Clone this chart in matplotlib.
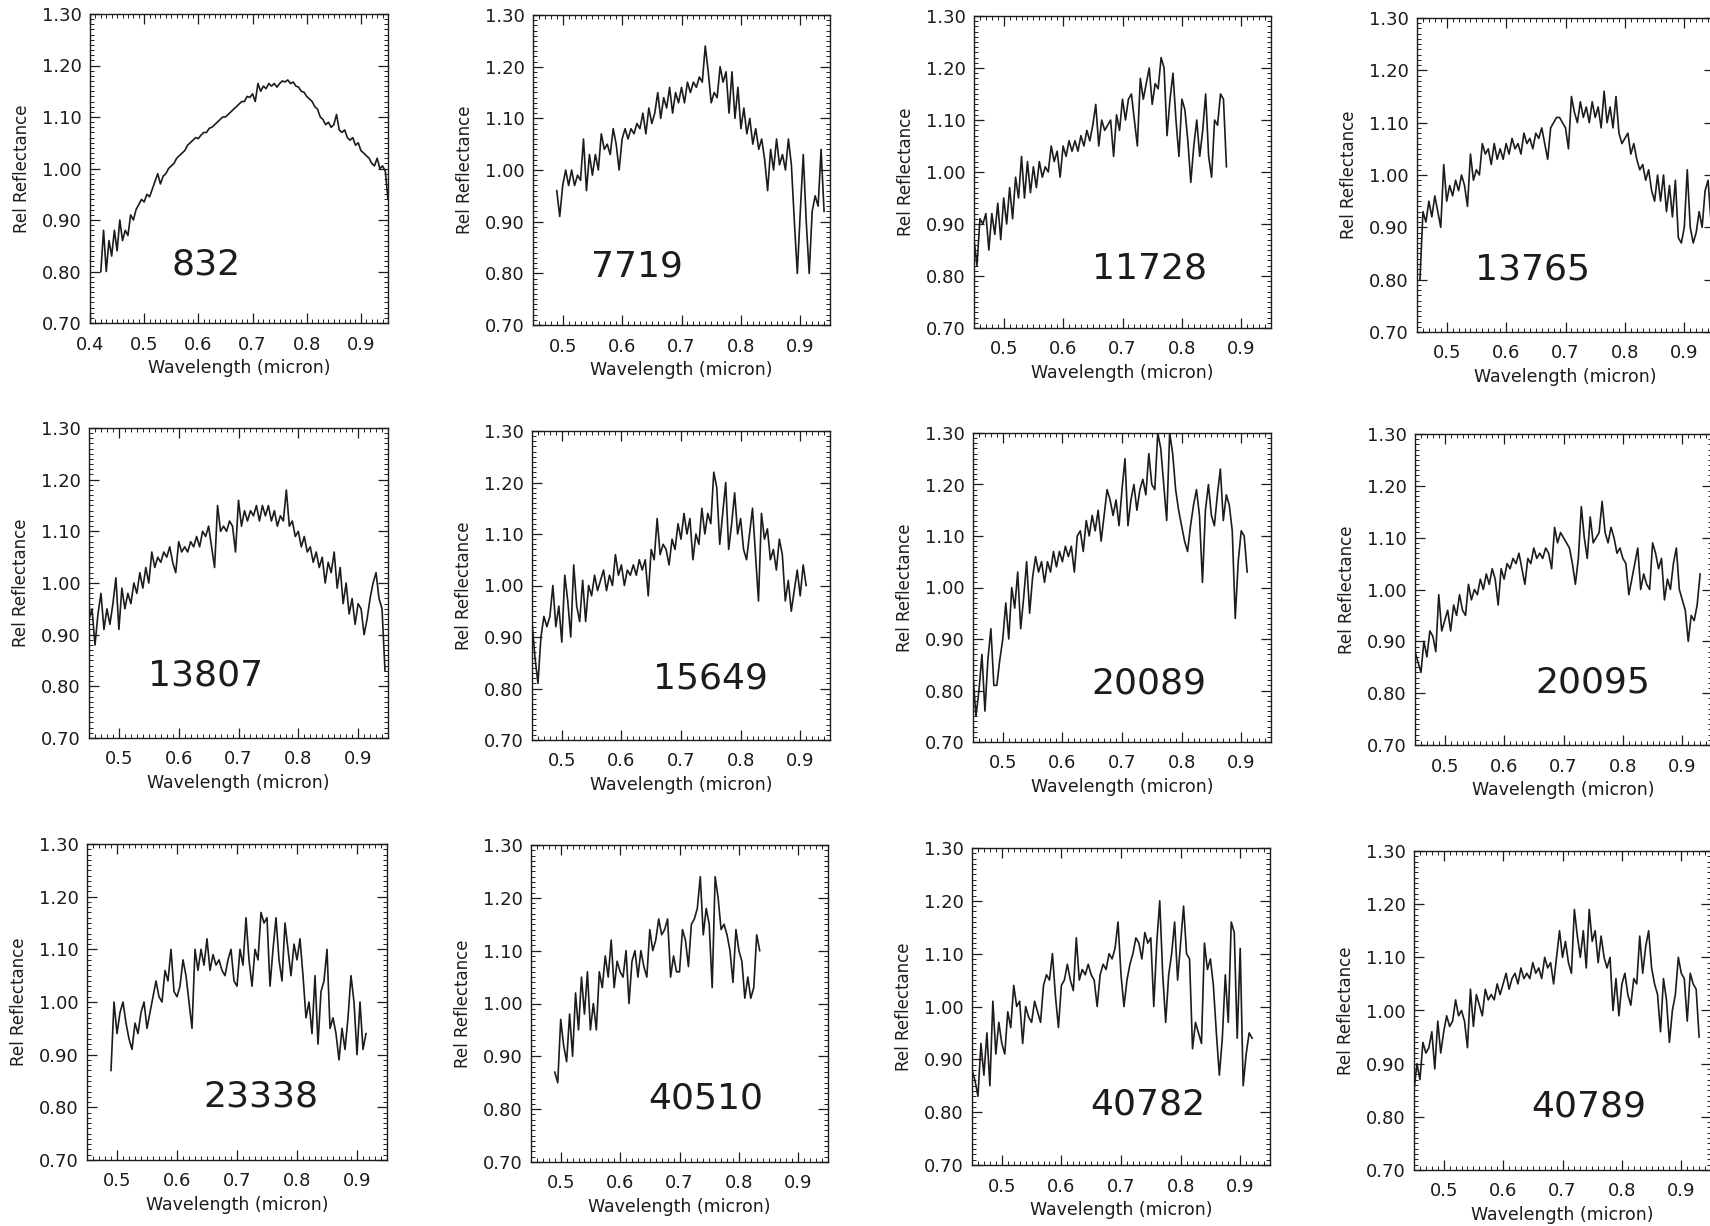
import numpy as np
import matplotlib
matplotlib.use("Agg")
import matplotlib.pyplot as plt
from matplotlib.ticker import MultipleLocator, FormatStrFormatter

# asteroid numbers shown in each panel
asteroids = ["832", "7719", "11728", "13765",
             "13807", "15649", "20089", "20095",
             "23338", "40510", "40782", "40789"]

# first wavelength (micron) of each spectrum, sampled every 0.005 micron
wl_start = [0.420, 0.490, 0.450, 0.455,
            0.450, 0.450, 0.450, 0.450,
            0.490, 0.490, 0.450, 0.450]
wl_step = 0.005

# relative reflectance
r832 = [0.80, 0.88, 0.80, 0.86, 0.83, 0.88, 0.84, 0.90, 0.86, 0.88,
        0.87, 0.91, 0.90, 0.92, 0.93, 0.94, 0.935, 0.95, 0.945, 0.96,
        0.975, 0.99, 0.97, 0.985, 0.99, 1.00, 1.005, 1.01, 1.02, 1.025,
        1.03, 1.035, 1.045, 1.05, 1.055, 1.06, 1.058, 1.065, 1.07, 1.07,
        1.078, 1.08, 1.085, 1.09, 1.095, 1.10, 1.10, 1.105, 1.11, 1.115,
        1.12, 1.125, 1.13, 1.13, 1.14, 1.138, 1.145, 1.13, 1.165, 1.15,
        1.16, 1.155, 1.165, 1.16, 1.165, 1.158, 1.165, 1.17, 1.168, 1.172,
        1.165, 1.168, 1.16, 1.158, 1.15, 1.148, 1.14, 1.135, 1.13, 1.12,
        1.115, 1.10, 1.095, 1.085, 1.09, 1.08, 1.085, 1.105, 1.075, 1.07,
        1.075, 1.06, 1.055, 1.06, 1.045, 1.05, 1.035, 1.03, 1.025, 1.02,
        1.01, 1.005, 1.02, 1.00, 1.005, 0.995, 0.94]

r7719 = [0.96, 0.91, 0.97, 1.00, 0.97, 1.00, 0.97, 0.99, 0.98, 1.06,
         0.96, 1.03, 0.99, 1.03, 1.00, 1.07, 1.04, 1.05, 1.03, 1.08,
         1.05, 1.00, 1.06, 1.08, 1.06, 1.08, 1.07, 1.09, 1.08, 1.11,
         1.07, 1.12, 1.09, 1.11, 1.15, 1.10, 1.14, 1.12, 1.16, 1.11,
         1.15, 1.13, 1.16, 1.13, 1.17, 1.15, 1.17, 1.16, 1.18, 1.17,
         1.24, 1.19, 1.13, 1.15, 1.14, 1.20, 1.17, 1.19, 1.11, 1.19,
         1.10, 1.16, 1.08, 1.12, 1.07, 1.10, 1.05, 1.08, 1.04, 1.06,
         1.02, 0.96, 1.04, 1.00, 1.06, 1.01, 1.03, 1.00, 1.06, 1.01,
         0.90, 0.80, 0.92, 1.03, 0.90, 0.80, 0.92, 0.95, 0.93, 1.04,
         0.92]

r11728 = [0.87, 0.82, 0.91, 0.90, 0.92, 0.85, 0.92, 0.88, 0.94, 0.87,
          0.95, 0.90, 0.97, 0.91, 0.99, 0.95, 1.03, 0.95, 1.02, 0.96,
          1.01, 0.97, 1.02, 0.99, 1.01, 1.00, 1.05, 1.02, 1.04, 0.99,
          1.05, 1.03, 1.06, 1.04, 1.06, 1.04, 1.07, 1.05, 1.08, 1.06,
          1.09, 1.13, 1.05, 1.10, 1.08, 1.09, 1.10, 1.03, 1.11, 1.08,
          1.14, 1.10, 1.14, 1.15, 1.10, 1.05, 1.18, 1.14, 1.17, 1.20,
          1.13, 1.17, 1.16, 1.22, 1.20, 1.07, 1.14, 1.19, 1.10, 1.03,
          1.14, 1.12, 1.06, 0.98, 1.05, 1.10, 1.03, 1.08, 1.15, 1.03,
          0.99, 1.10, 1.09, 1.15, 1.14, 1.01]

r13765 = [0.80, 0.93, 0.91, 0.95, 0.92, 0.96, 0.93, 0.90, 1.02, 0.95,
          0.98, 0.96, 0.99, 0.97, 1.00, 0.98, 0.94, 1.04, 0.99, 1.01,
          1.00, 1.06, 1.04, 1.05, 1.02, 1.06, 1.03, 1.05, 1.03, 1.06,
          1.04, 1.07, 1.05, 1.06, 1.04, 1.08, 1.06, 1.07, 1.05, 1.08,
          1.07, 1.09, 1.06, 1.03, 1.09, 1.10, 1.11, 1.11, 1.10, 1.09,
          1.05, 1.15, 1.12, 1.10, 1.14, 1.11, 1.13, 1.10, 1.14, 1.11,
          1.13, 1.09, 1.16, 1.10, 1.13, 1.09, 1.15, 1.08, 1.06, 1.07,
          1.08, 1.04, 1.06, 1.03, 1.01, 1.02, 0.99, 1.01, 0.97, 0.95,
          1.00, 0.95, 1.00, 0.93, 0.98, 0.92, 0.99, 0.88, 0.87, 0.90,
          1.01, 0.90, 0.87, 0.89, 0.93, 0.90, 0.97, 0.99, 0.91]

r13807 = [0.93, 0.95, 0.88, 0.94, 0.98, 0.91, 0.95, 0.92, 0.96, 1.01,
          0.91, 0.99, 0.95, 0.98, 0.96, 1.00, 0.98, 1.02, 0.99, 1.03,
          1.00, 1.06, 1.03, 1.05, 1.04, 1.06, 1.05, 1.07, 1.04, 1.02,
          1.08, 1.06, 1.07, 1.06, 1.08, 1.07, 1.09, 1.07, 1.10, 1.09,
          1.11, 1.07, 1.03, 1.15, 1.10, 1.11, 1.10, 1.12, 1.11, 1.06,
          1.16, 1.11, 1.14, 1.12, 1.14, 1.13, 1.15, 1.12, 1.15, 1.13,
          1.15, 1.12, 1.14, 1.11, 1.13, 1.12, 1.18, 1.11, 1.12, 1.09,
          1.10, 1.07, 1.09, 1.06, 1.07, 1.04, 1.06, 1.03, 1.05, 1.00,
          1.04, 1.02, 1.06, 0.99, 1.03, 0.96, 1.00, 0.94, 0.97, 0.92,
          0.96, 0.95, 0.90, 0.93, 0.97, 1.00, 1.02, 0.97, 0.95, 0.83]

r15649 = [0.93, 0.86, 0.81, 0.90, 0.94, 0.92, 0.94, 1.00, 0.92, 0.96,
          0.89, 1.02, 0.97, 0.90, 1.04, 0.96, 0.93, 1.01, 0.93, 1.00,
          0.98, 1.02, 0.99, 1.01, 1.03, 0.99, 1.02, 1.00, 1.06, 1.02,
          1.04, 1.00, 1.03, 1.02, 1.04, 1.02, 1.05, 1.03, 1.05, 0.98,
          1.07, 1.05, 1.13, 1.06, 1.08, 1.07, 1.04, 1.09, 1.07, 1.12,
          1.09, 1.14, 1.10, 1.13, 1.05, 1.10, 1.08, 1.15, 1.10, 1.14,
          1.12, 1.22, 1.19, 1.08, 1.14, 1.20, 1.07, 1.12, 1.18, 1.10,
          1.13, 1.07, 1.05, 1.10, 1.15, 1.06, 0.97, 1.14, 1.09, 1.11,
          1.05, 1.07, 1.03, 1.09, 1.06, 0.97, 1.01, 0.95, 0.99, 1.03,
          0.98, 1.04, 1.00]

r20089 = [0.83, 0.75, 0.80, 0.87, 0.76, 0.86, 0.92, 0.81, 0.81, 0.86,
          0.90, 0.97, 0.90, 1.00, 0.96, 1.03, 0.92, 0.98, 1.05, 0.95,
          1.02, 1.06, 1.03, 1.05, 1.01, 1.05, 1.03, 1.07, 1.04, 1.07,
          1.05, 1.08, 1.06, 1.08, 1.03, 1.10, 1.11, 1.07, 1.13, 1.10,
          1.14, 1.11, 1.15, 1.09, 1.14, 1.19, 1.17, 1.14, 1.17, 1.12,
          1.19, 1.25, 1.12, 1.17, 1.20, 1.15, 1.19, 1.21, 1.18, 1.26,
          1.20, 1.19, 1.30, 1.27, 1.20, 1.13, 1.30, 1.26, 1.19, 1.15,
          1.12, 1.09, 1.07, 1.12, 1.16, 1.19, 1.14, 1.01, 1.15, 1.20,
          1.14, 1.12, 1.18, 1.23, 1.13, 1.18, 1.16, 1.11, 0.94, 1.05,
          1.11, 1.10, 1.03]

r20095 = [0.88, 0.86, 0.84, 0.90, 0.87, 0.92, 0.91, 0.88, 0.99, 0.92,
          0.94, 0.96, 0.92, 0.97, 0.95, 0.99, 0.96, 0.95, 1.01, 0.98,
          1.00, 0.99, 1.02, 1.00, 1.03, 1.01, 1.04, 1.02, 0.97, 1.04,
          1.02, 1.05, 1.04, 1.06, 1.05, 1.07, 1.04, 1.01, 1.06, 1.05,
          1.08, 1.06, 1.07, 1.06, 1.08, 1.07, 1.04, 1.12, 1.09, 1.11,
          1.10, 1.09, 1.08, 1.05, 1.01, 1.06, 1.16, 1.10, 1.06, 1.14,
          1.09, 1.10, 1.11, 1.17, 1.11, 1.09, 1.12, 1.10, 1.07, 1.08,
          1.06, 1.05, 0.99, 1.02, 1.05, 1.08, 1.00, 1.03, 1.01, 1.00,
          1.09, 1.07, 1.04, 1.06, 0.98, 1.02, 1.00, 1.05, 1.08, 1.00,
          0.98, 0.96, 0.90, 0.95, 0.94, 0.97, 1.03]

r23338 = [0.87, 1.00, 0.94, 0.98, 1.00, 0.96, 0.93, 0.91, 0.96, 0.94,
          0.98, 1.00, 0.95, 0.98, 1.01, 1.04, 1.01, 1.00, 1.06, 1.04,
          1.10, 1.02, 1.01, 1.03, 1.08, 1.05, 1.00, 0.95, 1.10, 1.06,
          1.10, 1.07, 1.12, 1.06, 1.09, 1.07, 1.08, 1.06, 1.05, 1.08,
          1.10, 1.04, 1.03, 1.10, 1.07, 1.16, 1.08, 1.03, 1.10, 1.08,
          1.17, 1.15, 1.16, 1.03, 1.10, 1.16, 1.08, 1.04, 1.15, 1.10,
          1.05, 1.11, 1.08, 1.12, 1.05, 0.97, 1.00, 0.94, 1.05, 0.92,
          1.02, 1.04, 1.10, 0.95, 0.97, 0.94, 0.89, 0.95, 0.91, 0.97,
          1.05, 1.00, 0.90, 1.00, 0.91, 0.94]

r40510 = [0.87, 0.85, 0.97, 0.92, 0.89, 0.98, 0.90, 1.02, 0.95, 1.05,
          0.98, 1.06, 0.95, 1.00, 0.95, 1.06, 1.03, 1.09, 1.05, 1.12,
          1.03, 1.08, 1.06, 1.05, 1.10, 1.00, 1.08, 1.10, 1.05, 1.10,
          1.07, 1.05, 1.14, 1.10, 1.12, 1.16, 1.13, 1.14, 1.16, 1.05,
          1.09, 1.06, 1.06, 1.14, 1.12, 1.07, 1.15, 1.16, 1.18, 1.24,
          1.13, 1.18, 1.15, 1.03, 1.24, 1.20, 1.14, 1.15, 1.13, 1.10,
          1.04, 1.14, 1.10, 1.08, 1.01, 1.05, 1.01, 1.03, 1.13, 1.10]

r40782 = [0.88, 0.86, 0.83, 0.93, 0.87, 0.95, 0.85, 1.01, 0.91, 0.97,
          0.93, 0.91, 0.99, 0.96, 1.04, 1.00, 1.01, 0.93, 1.00, 0.98,
          0.97, 1.01, 0.99, 0.97, 1.04, 1.06, 1.05, 1.10, 1.02, 0.96,
          1.04, 1.05, 1.08, 1.05, 1.03, 1.13, 1.05, 1.07, 1.06, 1.08,
          1.06, 1.05, 1.00, 1.06, 1.08, 1.07, 1.10, 1.09, 1.11, 1.16,
          1.06, 1.00, 1.05, 1.08, 1.10, 1.13, 1.12, 1.09, 1.14, 1.12,
          1.13, 1.00, 1.12, 1.20, 1.06, 0.97, 1.06, 1.10, 1.16, 1.05,
          1.12, 1.19, 1.10, 1.09, 0.92, 0.97, 0.95, 0.93, 1.12, 1.07,
          1.09, 1.04, 0.95, 0.87, 0.94, 1.06, 0.97, 1.16, 1.14, 0.94,
          1.11, 0.85, 0.91, 0.95, 0.94]

r40789 = [0.85, 0.90, 0.87, 0.94, 0.92, 0.93, 0.96, 0.89, 0.98, 0.92,
          0.96, 0.99, 0.97, 0.98, 1.02, 0.99, 1.00, 0.98, 0.93, 1.04,
          0.97, 1.03, 1.01, 0.99, 1.04, 1.02, 1.03, 1.02, 1.05, 1.03,
          1.05, 1.07, 1.04, 1.06, 1.07, 1.05, 1.08, 1.06, 1.07, 1.06,
          1.09, 1.07, 1.08, 1.06, 1.10, 1.08, 1.09, 1.05, 1.10, 1.15,
          1.10, 1.13, 1.09, 1.07, 1.19, 1.14, 1.10, 1.15, 1.08, 1.19,
          1.13, 1.15, 1.09, 1.14, 1.10, 1.08, 1.10, 1.00, 1.06, 0.99,
          1.05, 1.07, 1.03, 1.01, 1.06, 1.05, 1.14, 1.07, 1.12, 1.15,
          1.08, 1.05, 1.03, 0.96, 1.06, 1.02, 0.94, 1.00, 1.03, 1.10,
          1.07, 1.06, 0.98, 1.07, 1.05, 1.04, 0.95]

spectra = [r832, r7719, r11728, r13765,
           r13807, r15649, r20089, r20095,
           r23338, r40510, r40782, r40789]

# panel boxes in figure pixels (left, top, right, bottom)
W, H = 1710, 1226
boxes = [(90, 14, 388, 323), (533, 15, 830, 325), (974, 16, 1271, 328), (1417, 18, 1714, 332),
         (89, 428, 388, 738), (532, 431, 830, 740), (973, 433, 1271, 742), (1415, 434, 1712, 745),
         (87, 844, 387, 1160), (531, 845, 828, 1162), (972, 848, 1270, 1165), (1414, 851, 1711, 1170)]
# where the asteroid number sits (axes fraction)
num_pos = [(0.39, 0.19), (0.35, 0.19), (0.59, 0.19), (0.39, 0.20),
           (0.39, 0.20), (0.60, 0.20), (0.59, 0.19), (0.60, 0.20),
           (0.58, 0.20), (0.59, 0.20), (0.59, 0.19), (0.59, 0.20)]

plt.rcParams['font.family'] = 'DejaVu Sans'
fig = plt.figure(figsize=(W / 100, H / 100), dpi=100)
ink = '#1e1a1e'

for i, (name, vals) in enumerate(zip(asteroids, spectra)):
    l, t, r, b = boxes[i]
    ax = fig.add_axes([l / W, 1 - b / H, (r - l) / W, (b - t) / H])
    wl = wl_start[i] + wl_step * np.arange(len(vals))
    ax.plot(wl, vals, color=ink, lw=1.2)

    ax.set_xlim(0.40 if i == 0 else 0.45, 0.95)
    ax.set_ylim(0.70, 1.30)
    ax.xaxis.set_major_locator(MultipleLocator(0.1))
    ax.xaxis.set_minor_locator(MultipleLocator(0.01))
    ax.yaxis.set_major_locator(MultipleLocator(0.1))
    ax.yaxis.set_minor_locator(MultipleLocator(0.01))
    ax.xaxis.set_major_formatter(FormatStrFormatter('%.1f'))
    ax.yaxis.set_major_formatter(FormatStrFormatter('%.2f'))
    if i != 0:
        ax.set_xticks([0.5, 0.6, 0.7, 0.8, 0.9])
    ax.tick_params(which='both', direction='in', top=True, right=True,
                   color=ink, labelcolor=ink, labelsize=13)
    ax.tick_params(which='major', length=7, width=0.9)
    ax.tick_params(which='minor', length=3, width=0.7)
    ax.tick_params(axis='x', pad=9)
    ax.tick_params(axis='y', pad=6)
    for s in ax.spines.values():
        s.set_linewidth(1.0)
        s.set_color(ink)

    ax.set_xlabel('Wavelength (micron)', fontsize=12.5, color=ink, labelpad=4)
    ax.set_ylabel('Rel Reflectance', fontsize=12, color=ink, labelpad=8)
    fx, fy = num_pos[i]
    ax.text(fx, fy, name, transform=ax.transAxes, ha='center', va='center',
            fontsize=26, color=ink)

fig.savefig('out.png', dpi=100)
